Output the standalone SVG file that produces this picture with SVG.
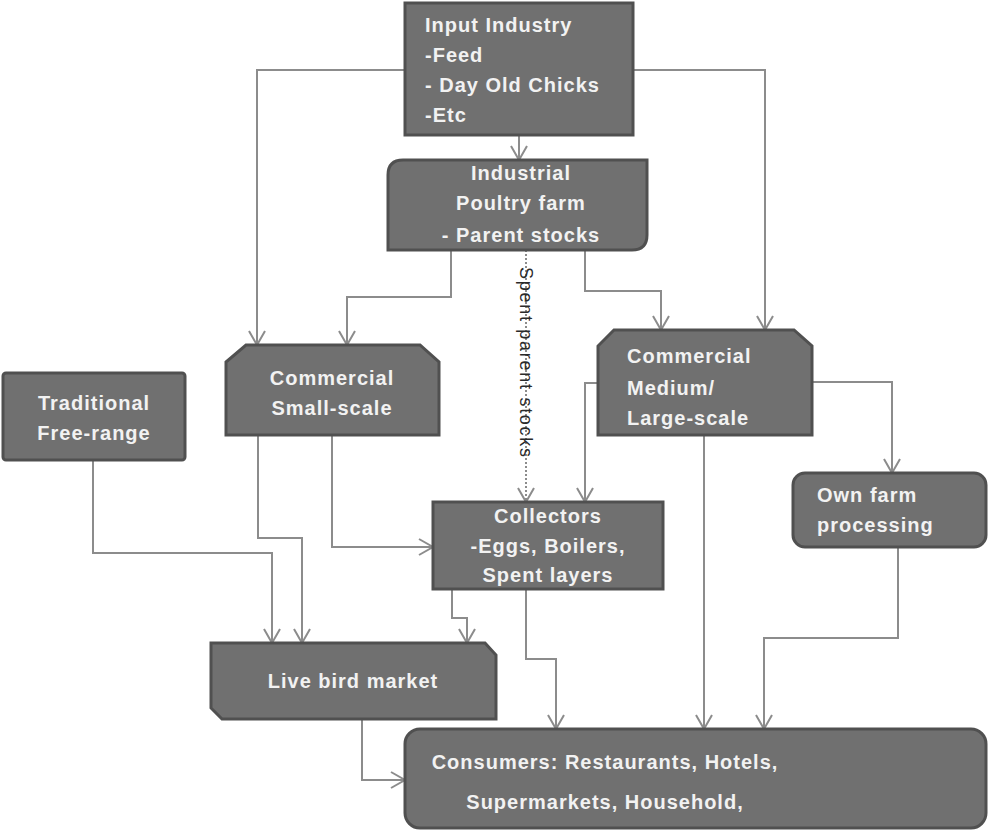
<svg xmlns="http://www.w3.org/2000/svg" width="989" height="833" viewBox="0 0 989 833">
<defs>
<marker id="arr" markerUnits="userSpaceOnUse" markerWidth="18" markerHeight="20" viewBox="0 0 18 20" refX="16" refY="10" orient="auto">
<path d="M2,2 L16,10 L2,18" fill="none" stroke="#8c8c8c" stroke-width="2"/>
</marker>
</defs>
<style>
.box{fill:#707070;stroke:#505050;stroke-width:3}
.t{font-family:"Liberation Sans",Arial,sans-serif;font-weight:bold;font-size:20px;fill:#f2f2f2;letter-spacing:1px}
.c{text-anchor:middle}
.ln{fill:none;stroke:#8c8c8c;stroke-width:2;marker-end:url(#arr)}
.dot{fill:none;stroke:#8c8c8c;stroke-width:2;stroke-dasharray:2 2;marker-end:url(#arr)}
.lbl{font-family:"Liberation Sans",Arial,sans-serif;font-size:18px;fill:#2a2a2a}
</style>
<rect width="989" height="833" fill="#ffffff"/>
<g id="connectors">
<path class="ln" d="M519,135 V160"/>
<path class="ln" d="M405,70 H257 V345"/>
<path class="ln" d="M633,70 H765 V330"/>
<path class="ln" d="M451,250 V297 H347 V345"/>
<path class="ln" d="M585,250 V291 H661 V330"/>
<path class="dot" d="M526,250 V502"/>
<path class="ln" d="M598,383 H585 V502"/>
<path class="ln" d="M812,382 H892 V473"/>
<path class="ln" d="M704,435 V729"/>
<path class="ln" d="M93,460 V553 H272 V643"/>
<path class="ln" d="M258,435 V538 H302 V643"/>
<path class="ln" d="M332,435 V547 H433"/>
<path class="ln" d="M452,589 V618 H467 V643"/>
<path class="ln" d="M526,589 V659 H556 V729"/>
<path class="ln" d="M898,547 V638 H764 V729"/>
<path class="ln" d="M362,719 V780 H405"/>
<text class="lbl" transform="translate(520,267) rotate(90)" textLength="190" lengthAdjust="spacing">Spent parent stocks</text>
</g>
<g id="input-industry">
<rect class="box" x="405" y="3" width="228" height="132"/>
<text class="t" x="425" y="32">Input Industry</text>
<text class="t" x="425" y="62">-Feed</text>
<text class="t" x="425" y="92">- Day Old Chicks</text>
<text class="t" x="425" y="122">-Etc</text>
</g>
<g id="industrial-farm">
<path class="box" d="M403,160 H647 V235 Q647,250 632,250 H388 V175 Q388,160 403,160 Z"/>
<text class="t c" x="521" y="180">Industrial</text>
<text class="t c" x="521" y="210">Poultry farm</text>
<text class="t c" x="521" y="242">- Parent stocks</text>
</g>
<g id="commercial-small">
<path class="box" d="M246,345 H420 L439,362 V435 H226 V362 Z"/>
<text class="t c" x="332" y="385">Commercial</text>
<text class="t c" x="332" y="415">Small-scale</text>
</g>
<g id="commercial-medium">
<path class="box" d="M614,330 H794 L812,346 V435 H598 V346 Z"/>
<text class="t" x="627" y="363">Commercial</text>
<text class="t" x="627" y="395">Medium/</text>
<text class="t" x="627" y="425">Large-scale</text>
</g>
<g id="traditional">
<rect class="box" x="3" y="373" width="182" height="87" rx="3"/>
<text class="t c" x="94" y="410">Traditional</text>
<text class="t c" x="94" y="440">Free-range</text>
</g>
<g id="own-farm">
<rect class="box" x="793" y="473" width="193" height="74" rx="12"/>
<text class="t" x="817" y="502">Own farm</text>
<text class="t" x="817" y="532">processing</text>
</g>
<g id="collectors">
<rect class="box" x="433" y="502" width="230" height="87"/>
<text class="t c" x="548" y="523">Collectors</text>
<text class="t c" x="548" y="553">-Eggs, Boilers,</text>
<text class="t c" x="548" y="582">Spent layers</text>
</g>
<g id="live-bird-market">
<path class="box" d="M211,643 H485 L496,655 V719 H222 L211,708 Z"/>
<text class="t c" x="353" y="688">Live bird market</text>
</g>
<g id="consumers">
<rect class="box" x="405" y="729" width="581" height="99" rx="15"/>
<text class="t c" x="605" y="769">Consumers: Restaurants, Hotels,</text>
<text class="t c" x="605" y="809">Supermarkets, Household,</text>
</g>
</svg>
